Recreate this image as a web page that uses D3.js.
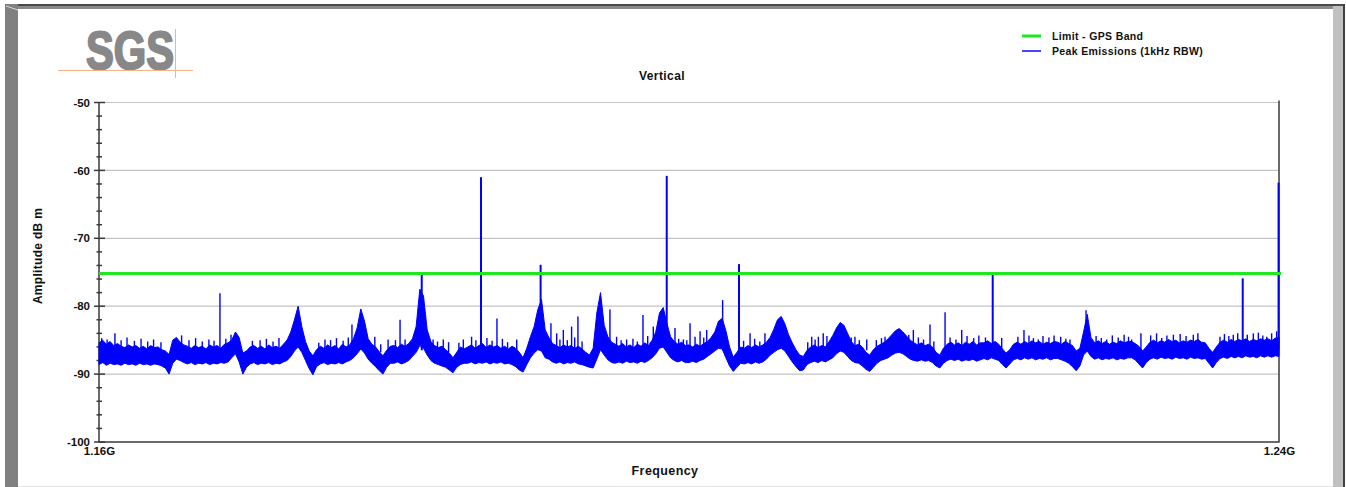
<!DOCTYPE html>
<html>
<head>
<meta charset="utf-8">
<script src="https://cdn.jsdelivr.net/npm/d3@7"></script>
<style>
  html, body { margin: 0; padding: 0; background: #fff; }
  svg { display: block; font-family: "Liberation Sans", Arial, sans-serif; }
  .lbl { font-weight: bold; fill: #111; }
</style>
</head>
<body>
<div id="chart"></div>
<script>
// ---- data ----
const freqStart = 1160, freqStop = 1240, freqStep = 0.25;   // MHz
const limitDbm = -75.2;
const yTicks = [-50, -60, -70, -80, -90, -100];
const xTickLabels = ['1.16G', '1.24G'];

// upper / lower edge of the noise trace, one value per 0.25 MHz (5 MHz per row)
const traceHi = [
  -85.4,-85.0,-85.6,-85.2,-85.8,-85.5,-85.9,-86.1,-85.7,-86.0,-85.8,-86.2,-85.9,-86.3,-85.8,-86.1,-86.0,-86.4,-86.6,-87.1, // 1160
  -85.0,-84.6,-85.3,-85.7,-85.9,-86.2,-85.8,-86.1,-85.9,-86.3,-85.7,-86.0,-85.8,-86.2,-85.6,-85.4,-85.0,-83.8,-84.6,-86.9, // 1165
  -86.6,-86.0,-85.8,-86.2,-85.9,-86.3,-85.7,-86.1,-85.9,-86.2,-85.6,-85.0,-83.8,-82.0,-80.0,-83.0,-85.2,-86.6,-87.3,-86.4, // 1170
  -85.9,-86.2,-85.7,-86.1,-85.8,-86.3,-85.6,-86.0,-85.7,-84.8,-83.2,-80.4,-82.2,-84.8,-85.6,-86.0,-86.7,-87.3,-86.5,-85.9, // 1175
  -85.8,-86.1,-85.6,-85.9,-85.5,-84.8,-83.0,-77.5,-78.5,-83.5,-85.2,-85.8,-86.1,-85.9,-86.4,-86.9,-87.6,-86.8,-86.0,-86.3, // 1180
  -86.0,-85.7,-86.2,-85.8,-85.5,-86.1,-85.7,-86.0,-85.8,-86.2,-85.9,-86.3,-85.9,-86.2,-86.8,-87.6,-86.2,-84.5,-83.0,-80.5, // 1185
  -79.0,-83.5,-84.6,-85.5,-85.8,-86.1,-85.7,-86.0,-85.8,-86.2,-85.9,-86.3,-86.8,-87.2,-86.2,-81.0,-78.0,-82.8,-84.5,-85.3, // 1190
  -85.6,-85.9,-85.5,-86.0,-85.7,-86.1,-85.6,-85.9,-85.4,-85.8,-85.0,-83.8,-81.0,-80.2,-82.5,-84.5,-85.2,-85.6,-85.3,-85.8, // 1195
  -85.7,-86.0,-85.6,-85.9,-85.5,-85.2,-84.6,-83.8,-82.2,-81.8,-83.6,-86.0,-87.5,-86.8,-86.0,-86.2,-85.8,-86.1,-85.7,-86.0, // 1200
  -85.7,-85.3,-84.6,-83.4,-82.0,-81.5,-82.6,-84.2,-85.4,-86.4,-87.2,-87.4,-86.5,-86.0,-85.7,-86.1,-85.8,-86.0,-85.2,-84.3, // 1205
  -83.2,-82.4,-82.8,-84.0,-85.2,-85.8,-85.6,-86.0,-86.8,-87.2,-86.4,-85.9,-85.6,-85.3,-84.8,-84.2,-83.6,-83.3,-83.8,-84.4, // 1210
  -85.0,-85.4,-85.7,-85.4,-85.8,-85.6,-86.0,-86.8,-87.2,-86.2,-85.6,-85.3,-85.7,-85.4,-85.8,-85.3,-85.6,-85.2,-85.7,-85.4, // 1215
  -85.4,-85.1,-85.5,-85.2,-85.6,-86.3,-86.9,-86.4,-85.6,-85.3,-85.6,-85.2,-85.5,-85.1,-85.4,-85.2,-85.6,-85.3,-85.5,-85.2, // 1220
  -85.3,-85.6,-85.2,-85.5,-85.8,-86.6,-86.2,-83.8,-81.2,-84.6,-85.4,-85.1,-85.5,-85.2,-85.6,-85.3,-85.5,-85.1,-85.4,-85.2, // 1225
  -85.2,-85.5,-85.9,-86.6,-86.0,-85.3,-85.0,-85.4,-85.1,-85.3,-84.9,-85.2,-85.0,-85.4,-85.1,-85.3,-85.0,-85.2,-84.9,-85.3, // 1230
  -85.4,-86.2,-86.8,-86.0,-85.3,-85.0,-85.3,-84.9,-85.2,-84.9,-85.1,-84.8,-85.2,-84.9,-85.1,-84.8,-85.0,-84.8,-85.1,-84.7, // 1235
  -84.6
];
const traceLo = [
  -88.6,-88.3,-88.7,-88.4,-88.6,-88.5,-88.7,-88.4,-88.6,-88.5,-88.7,-88.4,-88.6,-88.5,-88.7,-88.5,-88.6,-88.8,-89.1,-90.0, // 1160
  -88.4,-87.8,-88.0,-88.3,-88.5,-88.3,-88.6,-88.4,-88.5,-88.3,-88.6,-88.4,-88.5,-88.3,-88.4,-88.2,-87.6,-87.0,-88.2,-90.0, // 1165
  -89.0,-88.5,-88.3,-88.6,-88.4,-88.5,-88.3,-88.6,-88.4,-88.5,-88.2,-88.0,-87.4,-86.6,-86.0,-86.8,-88.0,-89.2,-90.1,-88.9, // 1170
  -88.5,-88.3,-88.6,-88.4,-88.5,-88.3,-88.5,-88.2,-88.0,-87.6,-87.0,-86.3,-86.9,-87.8,-88.4,-88.9,-89.5,-90.0,-89.0,-88.4, // 1175
  -88.4,-88.2,-88.5,-88.3,-88.0,-87.4,-86.8,-85.8,-86.2,-87.2,-88.0,-88.4,-88.6,-88.8,-89.0,-89.4,-89.8,-89.0,-88.6,-88.4, // 1180
  -88.4,-88.2,-88.5,-88.3,-88.4,-88.2,-88.5,-88.3,-88.4,-88.2,-88.5,-88.4,-88.6,-88.9,-89.4,-89.7,-88.6,-87.6,-86.9,-86.4, // 1185
  -86.6,-87.6,-87.8,-88.2,-88.4,-88.2,-88.5,-88.3,-88.4,-88.2,-88.5,-88.6,-88.8,-89.0,-89.1,-87.8,-86.4,-87.2,-87.9,-88.3, // 1190
  -88.4,-88.2,-88.4,-88.1,-88.3,-88.2,-88.4,-88.1,-88.3,-88.0,-87.6,-87.0,-86.2,-86.0,-86.8,-87.6,-88.0,-88.2,-88.0,-88.3, // 1195
  -88.3,-88.1,-88.3,-88.0,-87.8,-87.4,-87.0,-86.6,-86.2,-86.3,-87.6,-88.8,-89.6,-89.0,-88.4,-88.5,-88.3,-88.5,-88.2,-88.4, // 1200
  -88.2,-87.8,-87.2,-86.8,-86.4,-86.2,-86.6,-87.4,-88.2,-88.9,-89.5,-89.4,-88.6,-88.3,-88.1,-88.3,-88.0,-88.2,-87.9,-87.6, // 1205
  -87.0,-86.6,-86.8,-87.4,-88.0,-88.3,-88.4,-88.8,-89.3,-89.6,-89.0,-88.4,-88.0,-87.8,-87.6,-87.2,-86.9,-86.8,-87.0,-87.4, // 1210
  -87.8,-88.0,-88.1,-87.9,-88.1,-88.0,-88.3,-88.8,-89.1,-88.4,-88.0,-87.8,-88.0,-87.8,-88.1,-87.9,-88.0,-87.8,-88.1,-87.9, // 1215
  -87.7,-87.9,-87.6,-87.8,-88.0,-88.6,-89.1,-88.5,-87.9,-87.7,-87.9,-87.6,-87.8,-87.6,-87.9,-87.7,-87.8,-87.6,-87.9,-87.7, // 1220
  -87.7,-87.9,-88.1,-88.4,-88.9,-89.5,-88.8,-87.2,-86.6,-87.4,-87.8,-87.6,-87.9,-87.7,-87.8,-87.6,-87.9,-87.7,-87.8,-87.6, // 1225
  -87.6,-87.9,-88.5,-89.1,-88.3,-87.8,-87.6,-87.8,-87.5,-87.7,-87.6,-87.8,-87.5,-87.7,-87.6,-87.8,-87.5,-87.7,-87.6,-87.8, // 1230
  -87.7,-88.4,-89.1,-88.3,-87.7,-87.5,-87.7,-87.4,-87.6,-87.4,-87.6,-87.3,-87.5,-87.4,-87.6,-87.3,-87.5,-87.3,-87.5,-87.3, // 1235
  -87.4
];

// narrow spikes standing out of the noise: frequency (MHz) and peak (dBm)
const spikeFreq = [
  1160.18, 1161.08, 1168.20, 1170.92, 1172.73, 1175.32, 1177.15, 1179.60,
  1180.41, 1180.75, 1181.88, 1183.34, 1185.26, 1185.90, 1186.98, 1188.32,
  1189.94, 1190.64, 1191.03, 1191.48, 1192.04, 1192.47, 1194.64, 1195.09,
  1195.77, 1196.88, 1197.58, 1198.49, 1199.05, 1199.62, 1200.07, 1200.41,
  1200.75, 1201.20, 1202.28, 1203.39, 1204.14, 1205.15, 1208.32, 1208.77,
  1209.10, 1211.25, 1212.05, 1213.29, 1215.21, 1216.34, 1217.36, 1218.49,
  1220.59, 1221.20, 1222.71, 1223.68, 1225.83, 1226.92, 1228.32, 1230.01,
  1230.64, 1232.05, 1232.84, 1234.19, 1236.00, 1236.90, 1237.54, 1238.26,
  1239.17, 1239.84, 1239.97
];
const spikeDbm = [
  -84.7, -84.0, -78.1, -85.0, -85.0, -84.9, -82.7, -84.9,
  -82.0, -84.9, -75.1, -84.9, -84.5, -61.0, -81.8, -84.9,
  -73.9, -82.5, -84.0, -83.5, -83.0, -81.5, -80.5, -84.5,
  -84.9, -81.3, -83.0, -60.8, -83.2, -84.9, -82.5, -84.5,
  -83.7, -83.5, -79.1, -73.8, -84.0, -84.0, -84.5, -84.5,
  -84.0, -84.5, -84.9, -84.5, -83.5, -82.7, -80.9, -83.5,
  -75.4, -84.7, -83.5, -84.9, -84.9, -80.6, -84.9, -84.9,
  -84.0, -84.7, -84.2, -84.2, -84.5, -84.2, -75.9, -84.0,
  -84.5, -83.7, -61.8
];

// small grass ticks on top of the noise floor
const grassFreq = [
  1160.55, 1161.50, 1161.90, 1162.40, 1162.85, 1163.30, 1163.70, 1164.20,
  1165.60, 1166.10, 1166.55, 1167.00, 1167.45, 1167.80, 1168.60, 1168.95,
  1170.40, 1171.35, 1171.80, 1172.20, 1174.90, 1175.70, 1176.10, 1176.55,
  1176.90, 1178.70, 1179.10, 1180.10, 1182.65, 1182.95, 1183.70, 1184.40,
  1184.70, 1185.55, 1186.30, 1186.65, 1187.35, 1187.70, 1191.25, 1191.75,
  1192.25, 1192.75, 1195.40, 1196.20, 1196.50, 1197.20, 1199.30, 1199.85,
  1201.00, 1203.70, 1204.45, 1204.80, 1208.05, 1208.55, 1209.35, 1211.00,
  1211.55, 1212.70, 1213.05, 1214.90, 1215.55, 1215.90, 1216.60, 1217.70,
  1218.10, 1218.85, 1219.30, 1219.65, 1220.10, 1222.30, 1223.05, 1223.35,
  1224.00, 1224.40, 1224.75, 1225.20, 1225.55, 1227.60, 1227.95, 1228.70,
  1229.10, 1229.50, 1229.80, 1231.30, 1231.70, 1232.40, 1233.30, 1233.70,
  1234.50, 1236.30, 1236.60, 1237.20, 1237.85, 1238.60, 1238.90, 1239.50
];
const grassDbm = [
  -84.9, -85.0, -84.6, -85.1, -84.8, -85.2, -84.9, -85.3,
  -84.3, -85.0, -84.7, -85.2, -84.9, -85.1, -84.8, -84.2,
  -85.1, -84.8, -85.2, -84.7, -85.4, -85.0, -84.7, -85.1,
  -84.6, -84.5, -85.6, -85.0, -84.9, -85.2, -85.3, -85.4,
  -84.9, -85.0, -84.7, -85.1, -84.8, -85.3, -84.9, -85.0,
  -84.6, -85.2, -85.0, -84.8, -85.2, -84.4, -84.8, -85.0,
  -84.6, -85.1, -84.8, -85.2, -85.3, -84.9, -84.4, -84.6,
  -85.0, -85.0, -84.7, -84.2, -84.6, -84.9, -85.2, -84.6,
  -84.9, -84.4, -84.7, -84.3, -84.6, -84.5, -84.3, -84.7,
  -84.4, -84.6, -84.3, -84.5, -84.8, -84.4, -84.7, -84.3,
  -84.6, -84.2, -84.5, -84.3, -84.0, -84.3, -84.1, -84.4,
  -84.0, -84.1, -84.4, -84.0, -84.2, -83.9, -84.3, -84.0
];

// ---- layout ----
const W = 1346, H = 487;
const plot = { left: 99, right: 1279, top: 102.5, bottom: 442 };
const blue = '#0000ff', green = '#1ee81e', grid = '#c4c4c4', axisCol = '#3a3a3a';

const svg = d3.select('#chart').append('svg')
  .attr('width', W).attr('height', H);

// window frame
svg.append('rect').attr('x', 0).attr('y', 0).attr('width', W).attr('height', H).attr('fill', '#fff');
svg.append('rect').attr('x', 5).attr('y', 4).attr('width', 1340).attr('height', 2).attr('fill', '#4a4a4a');
svg.append('rect').attr('x', 5).attr('y', 6).attr('width', 1328).attr('height', 3).attr('fill', '#8a8a8a');
svg.append('rect').attr('x', 5).attr('y', 4).attr('width', 13).attr('height', 483).attr('fill', '#808080');
svg.append('line').attr('x1', 6).attr('y1', 6).attr('x2', 18).attr('y2', 10)
  .attr('stroke', '#d8d8d8').attr('stroke-width', 1);
svg.append('rect').attr('x', 1333).attr('y', 6).attr('width', 10).attr('height', 481).attr('fill', '#c0c0c0');
svg.append('rect').attr('x', 1343).attr('y', 4).attr('width', 2).attr('height', 483).attr('fill', '#404040');
svg.append('line').attr('x1', 18).attr('y1', 486.5).attr('x2', 1333).attr('y2', 486.5)
  .attr('stroke', '#e4e4e4');

// SGS logo
const logo = svg.append('g');
logo.append('text')
  .attr('x', 86).attr('y', 69)
  .attr('textLength', 88).attr('lengthAdjust', 'spacingAndGlyphs')
  .style('font-size', '54px').style('font-weight', 'bold').style('fill', '#888')
  .style('stroke', '#888').style('stroke-width', '2.2px').style('stroke-linejoin', 'round')
  .text('SGS');
logo.append('line').attr('x1', 58).attr('y1', 70.5).attr('x2', 193).attr('y2', 70.5)
  .attr('stroke', '#f2b488').attr('stroke-width', 1);
logo.append('line').attr('x1', 175.5).attr('y1', 29).attr('x2', 175.5).attr('y2', 78)
  .attr('stroke', '#f2b488').attr('stroke-width', 1);

// scales
const x = d3.scaleLinear().domain([freqStart, freqStop]).range([plot.left, plot.right]);
const y = d3.scaleLinear().domain([-100, -50]).range([plot.bottom, plot.top]);

// horizontal grid
svg.append('g').selectAll('line')
  .data(yTicks.filter(d => d > -100))
  .join('line')
  .attr('x1', plot.left).attr('x2', plot.right)
  .attr('y1', d => y(d)).attr('y2', d => y(d))
  .attr('stroke', grid).attr('stroke-width', 1.2);

// plot border (left, bottom, right)
svg.append('path')
  .attr('d', `M${plot.left},${plot.top}V${plot.bottom}H${plot.right}V${plot.top - 2}`)
  .attr('fill', 'none').attr('stroke', axisCol).attr('stroke-width', 1.5);

// y axis labels (plain hyphen minus like the original)
const yAxis = d3.axisLeft(y).tickValues(yTicks).tickFormat(d => String(d))
  .tickSize(0).tickPadding(9);
const gy = svg.append('g').attr('transform', `translate(${plot.left},0)`).call(yAxis);
gy.select('.domain').remove();
gy.selectAll('text').attr('class', 'lbl').style('font-size', '11.5px').attr('fill', '#111');

// crossing ticks: major every 10 dB, minor every 2 dB
const tickVals = d3.range(-100, -49, 2);
svg.append('g').selectAll('line')
  .data(tickVals)
  .join('line')
  .attr('x1', d => plot.left - (d % 10 === 0 ? 5 : 2.5))
  .attr('x2', d => plot.left + (d % 10 === 0 ? 6 : 3))
  .attr('y1', d => y(d)).attr('y2', d => y(d))
  .attr('stroke', axisCol).attr('stroke-width', 1.5);

// x axis labels (only ends)
const xAxis = d3.axisBottom(x).tickValues([freqStart, freqStop])
  .tickFormat((d, i) => xTickLabels[i]).tickSize(0).tickPadding(5);
const gx = svg.append('g').attr('transform', `translate(0,${plot.bottom})`).call(xAxis);
gx.select('.domain').remove();
gx.selectAll('text').attr('class', 'lbl').style('font-size', '11.5px').attr('fill', '#111');

// axis titles
svg.append('text').attr('class', 'lbl')
  .attr('x', 662).attr('y', 80).attr('text-anchor', 'middle')
  .style('font-size', '12px').style('letter-spacing', '0.4px')
  .text('Vertical');
svg.append('text').attr('class', 'lbl')
  .attr('x', 665).attr('y', 475).attr('text-anchor', 'middle')
  .style('font-size', '12.5px').style('letter-spacing', '0.4px')
  .text('Frequency');
svg.append('text').attr('class', 'lbl')
  .attr('transform', 'translate(42,256) rotate(-90)')
  .attr('text-anchor', 'middle')
  .style('font-size', '12px').style('letter-spacing', '0.3px')
  .text('Amplitude dB m');

// noise trace: band between lower and upper edge
const traceData = traceHi.map((hi, i) => ({ f: freqStart + i * freqStep, hi, lo: traceLo[i] }));
const area = d3.area()
  .x(d => x(d.f))
  .y0(d => y(d.lo))
  .y1(d => y(d.hi));

const plotG = svg.append('g');
plotG.append('path')
  .datum(traceData)
  .attr('d', area)
  .attr('fill', blue)
  .attr('stroke', blue).attr('stroke-width', 1).attr('stroke-linejoin', 'miter');

// grass
const grass = grassFreq.map((f, i) => ({ f, v: grassDbm[i] }));
plotG.selectAll('line.grass')
  .data(grass)
  .join('line')
  .attr('class', 'grass')
  .attr('x1', d => x(d.f)).attr('x2', d => x(d.f))
  .attr('y1', y(-86.8)).attr('y2', d => y(d.v))
  .attr('stroke', blue).attr('stroke-width', 1.4);

// spikes
const spikes = spikeFreq.map((f, i) => ({ f, v: spikeDbm[i] }));
plotG.selectAll('line.spike')
  .data(spikes)
  .join('line')
  .attr('class', 'spike')
  .attr('x1', d => x(d.f)).attr('x2', d => x(d.f))
  .attr('y1', y(-86.5)).attr('y2', d => y(d.v))
  .attr('stroke', blue)
  .attr('stroke-width', d => d.v > -78 ? 2 : 1.4);

// limit line
svg.append('line')
  .attr('x1', plot.left).attr('x2', plot.right + 2)
  .attr('y1', y(limitDbm)).attr('y2', y(limitDbm))
  .attr('stroke', green).attr('stroke-width', 3);

// legend
const legendItems = [
  { name: 'Limit - GPS Band', color: green, w: 3 },
  { name: 'Peak Emissions (1kHz RBW)', color: '#4646ff', w: 2 }
];
const lg = svg.append('g').attr('transform', 'translate(1022,36)');
const li = lg.selectAll('g').data(legendItems).join('g')
  .attr('transform', (d, i) => `translate(0,${i * 15})`);
li.append('line').attr('x1', 0).attr('x2', 19).attr('y1', 0).attr('y2', 0)
  .attr('stroke', d => d.color).attr('stroke-width', d => d.w);
li.append('text').attr('class', 'lbl')
  .attr('x', 30).attr('y', 0).attr('dy', '0.35em')
  .style('font-size', '10.5px').style('letter-spacing', '0.35px')
  .text(d => d.name);
</script>
</body>
</html>
